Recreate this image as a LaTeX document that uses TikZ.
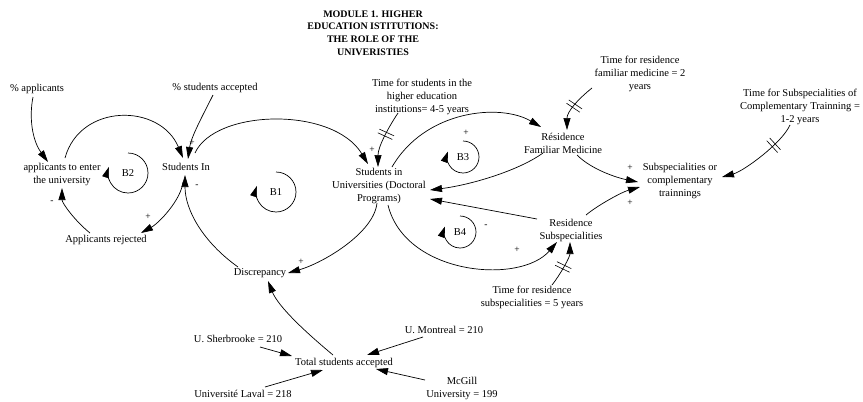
\documentclass[tikz,border=0pt]{standalone}
\usepackage{fontspec}
\setmainfont{Liberation Serif}
\usetikzlibrary{arrows.meta,decorations.markings}
\begin{document}
\begin{tikzpicture}[x=1pt,y=-1pt,
  lbl/.style={align=center,inner sep=0pt,font=\fontsize{10.5}{13}\selectfont},
  ttl/.style={align=center,inner sep=0pt,font=\bfseries\fontsize{10}{12.6}\selectfont},
  conn/.style={line width=0.7pt,-{Triangle[length=12pt,width=7pt]}},
  pol/.style={font=\fontsize{9.5}{10}\selectfont,inner sep=0pt},
  delaymark/.style={postaction={decorate,decoration={markings,mark=at position #1 with {\draw[line width=0.6pt,-] (-2,-8)--(-2,8) (2,-8)--(2,8);}}}},
  loopar/.style={line width=0.7pt,-{Triangle[length=11pt,width=7pt]}}
]
\useasboundingbox (0,0) rectangle (863,402);

% title
\node[ttl] (title) at (373,33) {MODULE 1. HIGHER\\EDUCATION ISTITUTIONS:\\THE ROLE OF THE\\UNIVERISTIES};

% variables
\node[lbl] (pa)   at (37,89)   {\% applicants};
\node[lbl] (psa)  at (215,88)  {\% students accepted};
\node[lbl] (ate)  at (62,174)  {applicants to enter\\the university};
\node[lbl] (si)   at (186,167) {Students In};
\node[lbl] (siu)  at (379,186) {Students in\\Universities (Doctoral\\Programs)};
\node[lbl] (tshe) at (422,97)  {Time for students in the\\higher education\\institutions= 4-5 years};
\node[lbl] (rfm)  at (563,143) {Résidence\\Familiar Medicine};
\node[lbl] (trfm) at (640,74)  {Time for residence\\familiar medicine = 2\\years};
\node[lbl] (sct)  at (680,181) {Subspecialities or\\complementary\\trainnings};
\node[lbl] (tsct) at (800,107) {Time for Subspecialities of\\Complementary Trainning =\\1-2 years};
\node[lbl] (rs)   at (571,230) {Residence\\Subspecialities};
\node[lbl] (trs)  at (532,297) {Time for residence\\subspecialities = 5 years};
\node[lbl] (ar)   at (106,240) {Applicants rejected};
\node[lbl] (disc) at (260,273) {Discrepancy};
\node[lbl] (tsa)  at (344,363) {Total students accepted};
\node[lbl] (sher) at (238,339) {U. Sherbrooke = 210};
\node[lbl] (mon)  at (444,330) {U. Montreal = 210};
\node[lbl] (laval) at (243,394) {Université Laval = 218};
\node[lbl] (mcg)  at (462,388) {McGill\\University = 199};

% loop labels
\node[lbl] (b2) at (128,173) {B2};
\node[lbl] (b1) at (276,192) {B1};
\node[lbl] (b3) at (463,157) {B3};
\node[lbl] (b4) at (460,232) {B4};
\draw[loopar] ([shift={(0,-20)}]b2.center) arc[start angle=-90,end angle=198,radius=20];
\draw[loopar] ([shift={(0,-20)}]b1.center) arc[start angle=-90,end angle=198,radius=20];
\draw[loopar] ([shift={(0,-16)}]b3.center) arc[start angle=-90,end angle=200,radius=16];
\draw[loopar] ([shift={(0,-16)}]b4.center) arc[start angle=-90,end angle=200,radius=16];

% connectors
\draw[conn] ([shift={(-4,8)}]pa.center) .. controls +(-4,20) and +(-16,-22) .. ([shift={(-14,-12)}]ate.center);
\draw[conn] ([shift={(-2,7)}]psa.center) .. controls +(-10,20) and +(3,-22) .. ([shift={(2,-8)}]si.center);
\draw[conn] ([shift={(3,-16)}]ate.center) .. controls +(15,-55) and +(-23,-55) .. ([shift={(-3,-9)}]si.center);
\draw[conn] ([shift={(9,-14)}]si.center) .. controls +(20,-44) and +(-35,-58) .. ([shift={(-11,-22)}]siu.center);
\draw[conn,delaymark=0.42] ([shift={(-24,16)}]tshe.center) .. controls +(-10,15) and +(0,-20) .. ([shift={(-1,-19)}]siu.center);
\draw[conn] ([shift={(13,-19)}]siu.center) .. controls +(33,-57) and +(-41,-24) .. ([shift={(-22,-16)}]rfm.center);
\draw[conn] ([shift={(-20,10)}]rfm.center) .. controls +(-25,18) and +(40,-5) .. ([shift={(51,4)}]siu.center);
\draw[conn,delaymark=0.5] ([shift={(-48,14)}]trfm.center) .. controls +(-15,12) and +(0,-18) .. ([shift={(4,-13)}]rfm.center);
\draw[conn] ([shift={(14,12)}]rfm.center) .. controls +(15,15) and +(-20,-4) .. ([shift={(-42,1)}]sct.center);
\draw[conn] ([shift={(15,-15)}]rs.center) .. controls +(12,-10) and +(-18,5) .. ([shift={(-40,6)}]sct.center);
\draw[conn,delaymark=0.3] ([shift={(-10,18)}]tsct.center) .. controls +(-8,18) and +(22,-6) .. ([shift={(42,-4)}]sct.center);
\draw[conn] ([shift={(-34,-11)}]rs.center) -- ([shift={(51,13)}]siu.center);
\draw[conn] ([shift={(9,19)}]siu.center) .. controls +(17,70) and +(-37,43) .. ([shift={(-14,12)}]rs.center);
\draw[conn,delaymark=0.45] ([shift={(20,-12)}]trs.center) .. controls +(8,-10) and +(0,15) .. ([shift={(-1,12)}]rs.center);
\draw[conn] ([shift={(-2,17)}]siu.center) .. controls +(-3,30) and +(35,-10) .. ([shift={(28,0)}]disc.center);
\draw[conn] ([shift={(-3,15)}]si.center) .. controls +(-2,18) and +(18,-10) .. ([shift={(35,-7)}]ar.center);
\draw[conn] ([shift={(-16,-7)}]ar.center) .. controls +(-15,-12) and +(0,15) .. ([shift={(0,14)}]ate.center);
\draw[conn] ([shift={(-22,-6)}]disc.center) .. controls +(-35,-25) and +(0,35) .. ([shift={(-1,8)}]si.center);
\draw[conn] ([shift={(-11,-8)}]tsa.center) .. controls +(-30,-25) and +(10,25) .. ([shift={(8,8)}]disc.center);
\draw[conn] ([shift={(22,8)}]sher.center) -- ([shift={(-52,-7)}]tsa.center);
\draw[conn] ([shift={(-21,7)}]mon.center) -- ([shift={(23,-8)}]tsa.center);
\draw[conn] ([shift={(22,-7)}]laval.center) -- ([shift={(-21,7)}]tsa.center);
\draw[conn] ([shift={(-37,-8)}]mcg.center) -- ([shift={(32,6)}]tsa.center);

% polarities
\node[pol] (p1) at (192,143) {+};
\node[pol] (p2) at (197,186) {-};
\node[pol] (p3) at (148,217) {+};
\node[pol] (p4) at (52,202) {-};
\node[pol] (p5) at (372,150) {+};
\node[pol] (p6) at (466,133) {+};
\node[pol] (p7) at (486,226) {-};
\node[pol] (p8) at (517,250) {+};
\node[pol] (p9) at (301,262) {+};
\node[pol] (p10) at (630,168) {+};
\node[pol] (p11) at (630,203) {+};
\end{tikzpicture}
\end{document}
